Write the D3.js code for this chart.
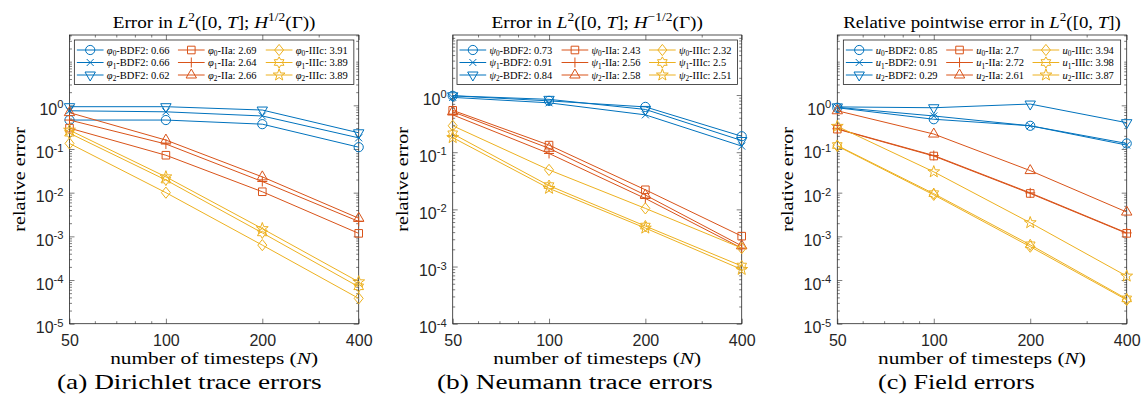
<!DOCTYPE html>
<html><head><meta charset="utf-8">
<script src="https://cdn.jsdelivr.net/npm/d3@7"></script>
<style>body{margin:0;background:#fff}svg{display:block}</style>
</head><body>
<svg id="c" width="1141" height="416"></svg>
<script>
// ---------------- data ----------------
const N = [50, 100, 200, 400];
const xTickValues = [50, 100, 200, 400];
const xMinorTicks = [60, 70, 80, 90, 300];
const methods = ["BDF2", "IIa", "IIIc"];

// (a) Dirichlet trace errors
const dirBDF2_0 = [0.46, 0.46, 0.37, 0.11];
const dirBDF2_1 = [0.75, 0.71, 0.57, 0.18];
const dirBDF2_2 = [0.93, 0.93, 0.78, 0.235];
const dirIIa_0  = [0.30, 0.072, 0.0105, 0.00117];
const dirIIa_1  = [0.46, 0.13, 0.018, 0.0022];
const dirIIa_2  = [0.68, 0.16, 0.023, 0.0026];
const dirIIIc_0 = [0.134, 0.010, 0.00063, 3.8e-5];
const dirIIIc_1 = [0.23, 0.0195, 0.0012, 7.0e-5];
const dirIIIc_2 = [0.27, 0.023, 0.0015, 9.1e-5];
const dirRates  = ["0.66", "0.66", "0.62", "2.69", "2.64", "2.66", "3.91", "3.89", "3.89"];

// (b) Neumann trace errors
const neuBDF2_0 = [0.97, 0.79, 0.62, 0.19];
const neuBDF2_1 = [0.91, 0.73, 0.45, 0.128];
const neuBDF2_2 = [0.97, 0.84, 0.56, 0.16];
const neuIIa_0  = [0.54, 0.133, 0.022, 0.0034];
const neuIIa_1  = [0.45, 0.095, 0.0155, 0.0021];
const neuIIa_2  = [0.51, 0.117, 0.0178, 0.0023];
const neuIIIc_0 = [0.29, 0.049, 0.0104, 0.0021];
const neuIIIc_1 = [0.21, 0.026, 0.0051, 0.00102];
const neuIIIc_2 = [0.18, 0.0233, 0.0047, 0.00089];
const neuRates  = ["0.73", "0.91", "0.84", "2.43", "2.56", "2.58", "2.32", "2.5", "2.51"];

// (c) Field errors
const fldBDF2_0 = [0.88, 0.48, 0.34, 0.134];
const fldBDF2_1 = [0.90, 0.57, 0.34, 0.123];
const fldBDF2_2 = [0.92, 0.88, 1.07, 0.40];
const fldIIa_0  = [0.285, 0.069, 0.0096, 0.00117];
const fldIIa_1  = [0.29, 0.071, 0.0099, 0.0012];
const fldIIa_2  = [0.75, 0.22, 0.032, 0.0036];
const fldIIIc_0 = [0.117, 0.0089, 0.00058, 3.5e-5];
const fldIIIc_1 = [0.12, 0.0095, 0.00064, 3.7e-5];
const fldIIIc_2 = [0.33, 0.030, 0.00205, 0.000123];
const fldRates  = ["0.85", "0.91", "0.29", "2.7", "2.72", "2.61", "3.94", "3.98", "3.87"];

const captions = ["(a) Dirichlet trace errors", "(b) Neumann trace errors", "(c) Field errors"];
const yLabel = "relative error";

// ---------------- style / layout ----------------
const SERIF = "'Liberation Serif','Times New Roman',serif";
const SANS = "'Liberation Sans',Arial,sans-serif";
const INK = "#262626";
const colors = ["#0072BD", "#D95319", "#EDB120"];
const markers = [["o", "x", "v"], ["s", "+", "^"], ["d", "h", "p"]];
const TOP = 35, BOTTOM = 323.7;

const panels = [
  { left: 69.5, right: 358.7, yMin: 1e-5, yMax: Math.pow(10, 1.61), sym: "\u03C6",
    series: [dirBDF2_0, dirBDF2_1, dirBDF2_2, dirIIa_0, dirIIa_1, dirIIa_2, dirIIIc_0, dirIIIc_1, dirIIIc_2],
    rates: dirRates, legW: 279.5, titleW: 203, capX: 57, capW: 265,
    title: [{t:"Error in "},{t:"L",i:1},{t:"2",sup:1},{t:"([0, "},{t:"T",i:1},{t:"]; "},{t:"H",i:1},{t:"1/2",sup:1},{t:"(\u0393))"}] },
  { left: 452.7, right: 741.7, yMin: 1e-4, yMax: Math.pow(10, 1.05), sym: "\u03C8",
    series: [neuBDF2_0, neuBDF2_1, neuBDF2_2, neuIIa_0, neuIIa_1, neuIIa_2, neuIIIc_0, neuIIIc_1, neuIIIc_2],
    rates: neuRates, legW: 280.4, titleW: 211.7, capX: 437, capW: 276,
    title: [{t:"Error in "},{t:"L",i:1},{t:"2",sup:1},{t:"([0, "},{t:"T",i:1},{t:"]; "},{t:"H",i:1},{t:"\u22121/2",sup:1},{t:"(\u0393))"}] },
  { left: 837.3, right: 1126.7, yMin: 1e-5, yMax: Math.pow(10, 1.61), sym: "u",
    series: [fldBDF2_0, fldBDF2_1, fldBDF2_2, fldIIa_0, fldIIa_1, fldIIa_2, fldIIIc_0, fldIIIc_1, fldIIIc_2],
    rates: fldRates, legW: 277.3, titleW: 278, capX: 878, capW: 157,
    title: [{t:"Relative pointwise error in "},{t:"L",i:1},{t:"2",sup:1},{t:"([0, "},{t:"T",i:1},{t:"])"}] }
];

const svg = d3.select("#c");

function richText(parent, segs, fs, family, fill) {
  const t = parent.append("text").attr("font-family", family).attr("font-size", fs).attr("fill", fill || "#000");
  let off = 0;
  segs.forEach(s => {
    let target = 0, size = fs;
    if (s.sup) { target = -0.4 * fs; size = 0.7 * fs; }
    else if (s.sub) { target = 0.25 * fs; size = 0.7 * fs; }
    const ts = t.append("tspan").text(s.t).attr("font-size", size);
    if (target !== off) { ts.attr("dy", target - off); off = target; }
    if (s.i) ts.attr("font-style", "italic");
  });
  return t;
}
function place(parent, x, y, segs, o) {
  const g = parent.append("g");
  const t = richText(g, segs, o.fs, o.family, o.fill);
  t.attr("text-anchor", o.anchor || "start");
  let s = 1;
  if (o.width) { const w = t.node().getBBox().width; if (w > 0) s = o.width / w; }
  g.attr("transform", `translate(${x},${y})` + (o.rotate ? ` rotate(${o.rotate})` : "") + ` scale(${s},1)`);
  return g;
}
function starPath(n, ro, ri) {
  const pts = [];
  for (let i = 0; i < 2 * n; i++) {
    const a = -Math.PI / 2 + i * Math.PI / n, r = i % 2 ? ri : ro;
    pts.push([r * Math.cos(a), r * Math.sin(a)]);
  }
  return "M" + pts.map(p => p[0].toFixed(2) + "," + p[1].toFixed(2)).join("L") + "Z";
}
function markerPath(m) {
  switch (m) {
    case "o": return "M4.6,0A4.6,4.6 0 1,1 -4.6,0A4.6,4.6 0 1,1 4.6,0Z";
    case "x": return "M-3.5,-3.5L3.5,3.5M-3.5,3.5L3.5,-3.5";
    case "v": return "M-5.2,-3L5.2,-3L0,6Z";
    case "^": return "M-5.2,3L5.2,3L0,-6Z";
    case "s": return "M-3.8,-3.8H3.8V3.8H-3.8Z";
    case "+": return "M-5,0H5M0,-5V5";
    case "d": return "M0,-5.6L4.5,0L0,5.6L-4.5,0Z";
    case "h": return starPath(6, 5.6, 3.23);
    case "p": return starPath(5, 6.2, 2.5);
  }
}

panels.forEach((p, pi) => {
  const g = svg.append("g");
  const x = d3.scaleLog().domain([50, 400]).range([p.left, p.right]);
  const y = d3.scaleLog().domain([p.yMin, p.yMax]).range([BOTTOM, TOP]);
  const e0 = Math.round(Math.log10(p.yMin)), e1 = Math.floor(Math.log10(p.yMax));
  const decades = d3.range(e0, e1 + 1).map(e => Math.pow(10, e));
  const majY = decades.filter(v => v <= 1);
  const minY = [];
  decades.forEach(v => { for (let k = 2; k < 10; k++) { if (v * k < p.yMax) minY.push(v * k); } });
  decades.filter(v => v > 1).forEach(v => minY.push(v));

  const styleAxis = a => { a.select(".domain").remove(); a.selectAll("line").attr("stroke", INK).attr("stroke-width", 0.6); };
  // bottom / top
  const bx = g.append("g").attr("transform", `translate(0,${BOTTOM})`)
    .call(d3.axisBottom(x).tickValues(xTickValues).tickSize(-5).tickSizeOuter(0).tickFormat(d3.format("d")));
  styleAxis(bx);
  bx.selectAll("text").attr("y", 22).attr("dy", null).attr("font-size", 16).attr("font-family", SANS).attr("fill", INK);
  g.append("g").attr("transform", `translate(0,${BOTTOM})`)
    .call(d3.axisBottom(x).tickValues(xMinorTicks).tickSize(-2.5).tickSizeOuter(0).tickFormat("")).call(styleAxis);
  g.append("g").attr("transform", `translate(0,${TOP})`)
    .call(d3.axisTop(x).tickValues(xTickValues).tickSize(-5).tickSizeOuter(0).tickFormat("")).call(styleAxis);
  g.append("g").attr("transform", `translate(0,${TOP})`)
    .call(d3.axisTop(x).tickValues(xMinorTicks).tickSize(-2.5).tickSizeOuter(0).tickFormat("")).call(styleAxis);
  // left / right
  const ly = g.append("g").attr("transform", `translate(${p.left},0)`)
    .call(d3.axisLeft(y).tickValues(majY).tickSize(-5).tickSizeOuter(0).tickFormat(""));
  styleAxis(ly);
  ly.selectAll(".tick").each(function (d) {
    const e = Math.round(Math.log10(d));
    place(d3.select(this), -6, 9, [{t:"10"},{t: e < 0 ? "-" + (-e) : String(e), sup:1}], { fs: 16, family: SANS, anchor: "end", fill: INK });
  });
  g.append("g").attr("transform", `translate(${p.left},0)`)
    .call(d3.axisLeft(y).tickValues(minY).tickSize(-2.5).tickSizeOuter(0).tickFormat("")).call(styleAxis);
  g.append("g").attr("transform", `translate(${p.right},0)`)
    .call(d3.axisRight(y).tickValues(majY).tickSize(-5).tickSizeOuter(0).tickFormat("")).call(styleAxis);
  g.append("g").attr("transform", `translate(${p.right},0)`)
    .call(d3.axisRight(y).tickValues(minY).tickSize(-2.5).tickSizeOuter(0).tickFormat("")).call(styleAxis);
  g.append("rect").attr("x", p.left).attr("y", TOP).attr("width", p.right - p.left).attr("height", BOTTOM - TOP)
    .attr("fill", "none").attr("stroke", INK).attr("stroke-width", 0.8);

  // series
  const line = d3.line().x((d, i) => x(N[i])).y(d => y(d));
  p.series.forEach((vals, si) => {
    const m = Math.floor(si / 3), k = si % 3;
    g.append("path").attr("d", line(vals)).attr("fill", "none").attr("stroke", colors[m]).attr("stroke-width", 1);
    g.selectAll(null).data(vals).enter().append("path")
      .attr("transform", (d, i) => `translate(${x(N[i])},${y(d)})`)
      .attr("d", markerPath(markers[m][k])).attr("fill", "none").attr("stroke", colors[m]).attr("stroke-width", 1);
  });

  // legend
  const LPAD = 2.5, LINE = 26.7, GAP = 3.3, RPAD = 6, LTOP = 40, LH = 44.5, ROWH = 12.5;
  const cx = (p.left + p.right) / 2;
  const leg = g.append("g");
  const box = leg.append("rect").attr("y", LTOP).attr("height", LH).attr("fill", "#fff").attr("stroke", INK).attr("stroke-width", 0.8);
  const entries = [];
  p.series.forEach((vals, si) => {
    const m = Math.floor(si / 3), k = si % 3;
    const el = place(leg, 0, 0, [{t:p.sym, i:1},{t:String(k), sub:1},{t:`-${methods[m]}: ${p.rates[si]}`}], { fs: 10.5, family: SERIF });
    entries.push({ m, k, el, w: el.node().getBBox().width });
  });
  const colMax = [0, 1, 2].map(c => d3.max(entries.filter(e => e.m === c), e => e.w));
  const s = (p.legW - 3 * (LPAD + LINE + GAP + RPAD)) / d3.sum(colMax);
  const L0 = cx - p.legW / 2;
  box.attr("x", L0).attr("width", p.legW);
  let colX = L0;
  const colStart = [0, 1, 2].map(c => { const v = colX; colX += LPAD + LINE + GAP + colMax[c] * s + RPAD; return v; });
  entries.forEach(e => {
    const x0 = colStart[e.m] + LPAD, yc = LTOP + 10 + e.k * ROWH;
    leg.append("line").attr("x1", x0).attr("x2", x0 + LINE).attr("y1", yc).attr("y2", yc).attr("stroke", colors[e.m]).attr("stroke-width", 1);
    leg.append("path").attr("transform", `translate(${x0 + LINE / 2},${yc})`).attr("d", markerPath(markers[e.m][e.k]))
      .attr("fill", "none").attr("stroke", colors[e.m]).attr("stroke-width", 1);
    e.el.attr("transform", `translate(${x0 + LINE + GAP},${yc + 3.6}) scale(${s},1)`);
    e.el.raise();
  });

  // texts
  place(svg, cx, 28.3, p.title, { fs: 17.5, family: SERIF, anchor: "middle", width: p.titleW });
  place(svg, cx, 364, [{t:"number of timesteps ("},{t:"N", i:1},{t:")"}], { fs: 16.5, family: SERIF, anchor: "middle", width: 208 });
  place(svg, p.left - 44.5, (TOP + BOTTOM) / 2, [{t:yLabel}], { fs: 17.5, family: SERIF, anchor: "middle", rotate: -90, width: 105 });
  place(svg, p.capX, 389, [{t:captions[pi]}], { fs: 20, family: SERIF, width: p.capW });
});
</script>
</body></html>
